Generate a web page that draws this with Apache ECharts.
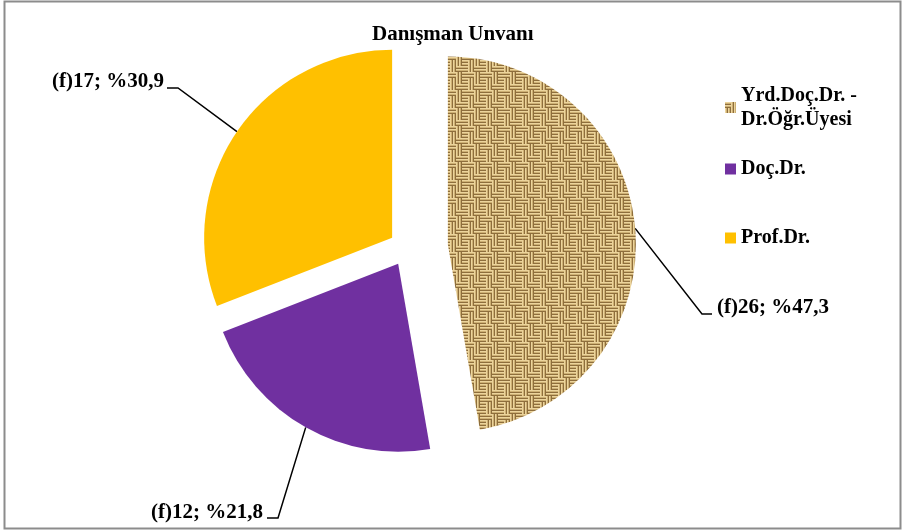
<!DOCTYPE html>
<html>
<head>
<meta charset="utf-8">
<script src="https://cdn.jsdelivr.net/npm/echarts@6/dist/echarts.min.js"></script>
<style>
html, body { margin: 0; padding: 0; background: #fff; }
#main { width: 902px; height: 530px; }
</style>
</head>
<body>
<div id="main"></div>
<script>
// veriler
var categories = ['Yrd.Doç.Dr. -\nDr.Öğr.Üyesi', 'Doç.Dr.', 'Prof.Dr.'];
var counts = [26, 12, 17];
var percents = ['47,3', '21,8', '30,9'];

// çuval bezi dokusu
function burlap() {
  var c = document.createElement('canvas');
  c.width = 18; c.height = 18;
  var g = c.getContext('2d');
  var strand = ['#ecd49c', '#cdb074', '#8e6e3c'];
  for (var by = 0; by < 3; by++) {
    for (var bx = 0; bx < 3; bx++) {
      var horiz = (bx + by * 2) % 3 !== 1;
      if (by === 1) horiz = !horiz;
      for (var s = 0; s < 2; s++) {
        for (var k = 0; k < 3; k++) {
          g.fillStyle = strand[k];
          if (horiz) g.fillRect(bx * 6, by * 6 + s * 3 + k, 6, 1);
          else g.fillRect(bx * 6 + s * 3 + k, by * 6, 1, 6);
        }
      }
    }
  }
  return c;
}
var burlapFill = { image: burlap(), repeat: 'repeat' };

var sliceColors = [burlapFill, '#7030A0', '#FFC000'];
var center = [407, 248];
var explode = [41, 18, 18];
var labelBoxes = [
  { x: 717, y: 308, align: 'left', ex: 702, ey: 314, lx: 712 },
  { x: 263, y: 513, align: 'right', ex: 278, ey: 518, lx: 267 },
  { x: 164, y: 82, align: 'right', ex: 178, ey: 88, lx: 167 }
];
var font = { fontFamily: 'Liberation Serif', fontWeight: 'bold', fontSize: 21, color: '#000' };

var total = counts.reduce(function (a, b) { return a + b; }, 0);
var series = [];
var cum = 0;
counts.forEach(function (v, i) {
  var mid = (cum + v / 2) / total * Math.PI * 2;
  cum += v;
  series.push({
    type: 'pie',
    silent: true,
    animation: false,
    center: [center[0] + Math.sin(mid) * explode[i], center[1] - Math.cos(mid) * explode[i]],
    radius: 188,
    startAngle: 90,
    avoidLabelOverlap: false,
    itemStyle: { borderWidth: 0 },
    label: Object.assign({
      formatter: function (p) { return '(f)' + p.value + '; %' + percents[p.dataIndex]; }
    }, font),
    labelLine: { lineStyle: { color: '#000', width: 1.5 } },
    labelLayout: function (p) {
      var b = labelBoxes[p.dataIndex];
      var pts = p.labelLinePoints;
      var out = { x: b.x, y: b.y, align: b.align, verticalAlign: 'middle' };
      if (pts) out.labelLinePoints = [pts[0], [b.ex, b.ey], [b.lx, b.ey]];
      return out;
    },
    data: counts.map(function (w, j) {
      return {
        name: categories[j],
        value: w,
        itemStyle: { color: j === i ? sliceColors[j] : 'rgba(0,0,0,0)' },
        label: { show: j === i },
        labelLine: { show: j === i }
      };
    })
  });
});

function legendFor(i, top, extra) {
  return {
    data: [{ name: categories[i], itemStyle: { color: sliceColors[i] } }],
    orient: 'vertical',
    left: 725,
    top: top,
    padding: 0,
    icon: 'rect',
    itemWidth: 11,
    itemHeight: 11,
    selectedMode: false,
    textStyle: Object.assign({ lineHeight: 24 }, font, { fontSize: 20 }, extra || {})
  };
}

var chart = echarts.init(document.getElementById('main'));
chart.setOption({
  backgroundColor: '#fff',
  title: {
    text: 'Danışman Unvanı',
    left: 372,
    top: 24,
    padding: 0,
    textStyle: font
  },
  legend: [
    legendFor(0, 79, { padding: [9, 0, 0, 0] }),
    legendFor(1, 157),
    legendFor(2, 226)
  ],
  graphic: [{
    type: 'rect',
    shape: { x: 4.5, y: 1.5, width: 896, height: 527 },
    style: { fill: 'none', stroke: '#8c8c8c', lineWidth: 2 },
    silent: true
  }],
  series: series
});
</script>
</body>
</html>
